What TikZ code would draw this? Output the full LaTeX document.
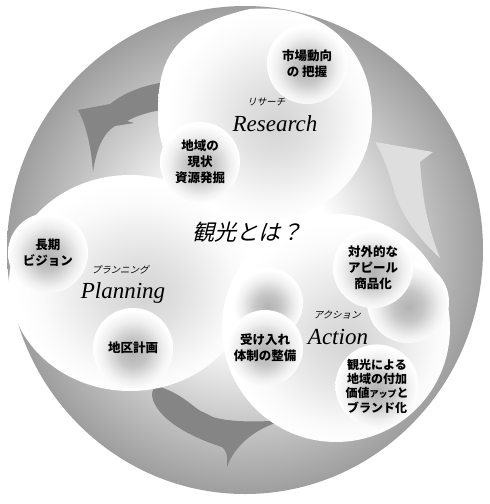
\documentclass[tikz,border=0pt]{standalone}
\usepackage{fontspec}
\newfontfamily\jp{Noto Sans CJK JP}
\newfontfamily\tim{Liberation Serif}
\definecolor{arrowdark}{gray}{0.52}
\definecolor{arrowlight}{gray}{0.87}
\pgfdeclareradialshading{diskshade}{\pgfpoint{0bp}{0bp}}{color(0bp)=(white); color(9bp)=(white); color(17bp)=(gray!40); color(25bp)=(gray!76); color(50bp)=(gray!76)}
\pgfdeclareradialshading{ballshade}{\pgfpoint{0bp}{-3bp}}{color(0bp)=(gray!60); color(9bp)=(gray!45); color(19bp)=(gray!12); color(25bp)=(white); color(50bp)=(white)}
\pgfdeclareradialshading{blobshade}{\pgfpoint{3bp}{-3bp}}{color(0bp)=(gray!34); color(8bp)=(gray!24); color(20bp)=(gray!4); color(25bp)=(white); color(50bp)=(white)}
\begin{document}
\begin{tikzpicture}[x=1pt,y=-1pt,
  ball/.style={circle, shade, shading=ballshade, inner sep=0pt, minimum size=80pt, align=center,
    font={\jp\bfseries\fontsize{12.5}{16}\selectfont}},
  blob/.style={shade, shading=blobshade},
  slanted/.style={transform shape, xslant=0.25},
  jptag/.style={slanted, font={\jp\fontsize{9.5}{10}\selectfont}},
  entitle/.style={font={\tim\itshape\fontsize{23}{23}\selectfont}}]
\fill[white] (0,0) rectangle (490,504);
\path[use as bounding box] (0,0) rectangle (490,504);
% outer disk
\path[shade, shading=diskshade] (245,250) ellipse [x radius=238, y radius=244];
% arrows
\fill[arrowdark] (178,80) .. controls (145,84) and (125,92) .. (110,104) -- (78,110)
  .. controls (86,125) and (91,145) .. (93,172) .. controls (96,150) and (103,133) .. (115,126)
  -- (134,123) -- (127,121) .. controls (140,114) and (155,110) .. (178,108) -- cycle;
\fill[arrowdark] (160,387) .. controls (185,395) and (195,410) .. (205,413) -- (213,417)
  .. controls (225,421) and (250,423) .. (285,420) .. controls (255,428) and (235,445) .. (227,467)
  .. controls (228,455) and (226,450) .. (222,447) .. controls (190,437) and (160,420) .. (153,400)
  .. controls (150,390) and (155,385) .. (160,387) -- cycle;
\fill[arrowlight] (375,142) -- (433,152) -- (420,162) .. controls (422,185) and (423,215) .. (440,258)
  .. controls (420,240) and (400,215) .. (393,187) .. controls (388,170) and (383,155) .. (375,142) -- cycle;
% big blobs
\path[blob] (250,9) .. controls (330,3) and (372,55) .. (372,115) .. controls (372,175) and (325,220) .. (265,220)
  .. controls (205,220) and (158,175) .. (158,115) .. controls (158,70) and (164,28) .. (250,9) -- cycle;
\path[blob] (130,283) ellipse [x radius=121, y radius=108];
\path[blob] (336,328) circle [radius=114];
% small circles
\node[ball] (market) at (307,64) {市場動向\\の 把握};
\node[ball] (local) at (200,162) {地域の\\現状\\資源発掘};
\node[ball] (vision) at (48,253) {長期\\ビジョン};
\node[ball] (district) at (133,348) {地区計画};
\node[ball, minimum size=70pt] (blank1) at (268,303) {};
\node[ball, minimum size=76pt] (accept) at (265,348) {受け入れ\\体制の整備};
\node[ball, minimum size=82pt] (blank2) at (408,302) {};
\node[ball] (appeal) at (373,268) {対外的な\\アピール\\商品化};
\node[ball, minimum size=82pt, font={\jp\bfseries\fontsize{12}{14.3}\selectfont}] (brand) at (377,386)
  {観光による\\地域の付加\\価値{\fontsize{9}{9}\selectfont アップ}と\\ブランド化};
% titles
\begin{scope}[shift={(250,232)}]
  \node[slanted, font={\jp\fontsize{22}{22}\selectfont}] (title) at (0,0) {観光とは？};
\end{scope}
\begin{scope}[shift={(267,102)}]
  \node[jptag] (rk) at (0,0) {リサーチ};
\end{scope}
\node[entitle] (re) at (275,124) {Research};
\begin{scope}[shift={(121,270)}]
  \node[jptag] (pk) at (0,0) {プランニング};
\end{scope}
\node[entitle] (pl) at (123,293) {Planning};
\begin{scope}[shift={(338,315)}]
  \node[jptag] (ak) at (0,0) {アクション};
\end{scope}
\node[entitle] (ac) at (338,337) {Action};
\end{tikzpicture}
\end{document}
